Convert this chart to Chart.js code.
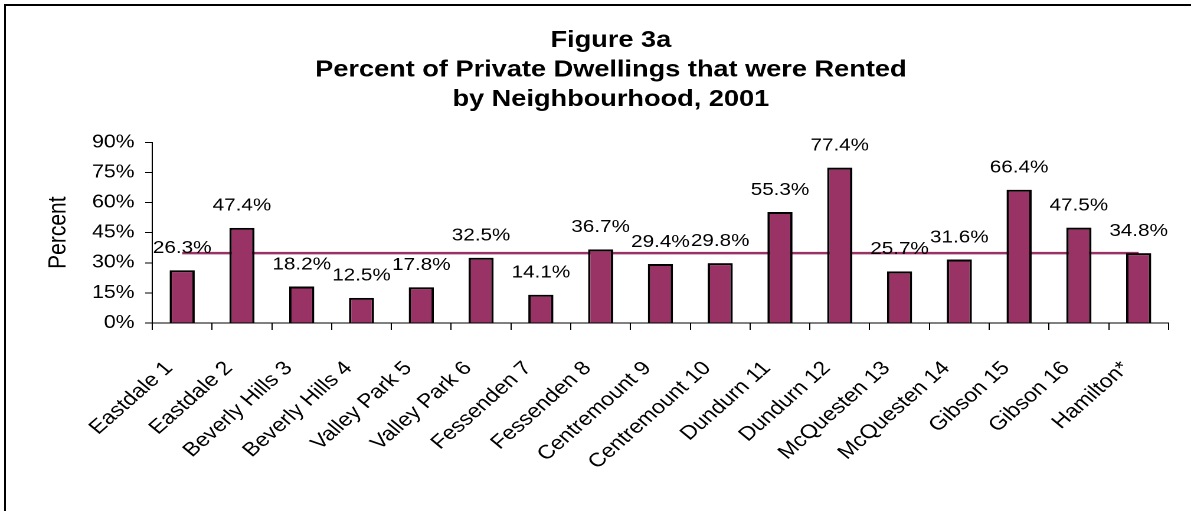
<!DOCTYPE html>
<html>
<head>
<meta charset="utf-8">
<script src="https://cdn.jsdelivr.net/npm/chart.js@4/dist/chart.umd.min.js"></script>
<style>
    html, body { margin: 0; padding: 0; background: #fff; overflow: hidden; }
    #frame { position: absolute; left: 4px; top: 4px; width: 1300px; height: 600px; border-top: 2px solid #000; border-left: 2px solid #000; }
    /* the original figure is stretched sideways, so draw narrower and widen it */
    #holder { position: absolute; left: 0; top: 0; width: 1009px; height: 511px; transform: scaleX(1.1804); transform-origin: 0 0; }
</style>
</head>
<body>
<div id="frame"></div>
<div id="holder"><canvas id="myChart"></canvas></div>
<script>
// neighbourhoods, in chart order
const neighbourhoods = ['Eastdale 1', 'Eastdale 2', 'Beverly Hills 3', 'Beverly Hills 4', 'Valley Park 5', 'Valley Park 6',
    'Fessenden 7', 'Fessenden 8', 'Centremount 9', 'Centremount 10', 'Dundurn 11', 'Dundurn 12',
    'McQuesten 13', 'McQuesten 14', 'Gibson 15', 'Gibson 16', 'Hamilton*'];
// percent of private dwellings rented
const rented_pct = [26.3, 47.4, 18.2, 12.5, 17.8, 32.5, 14.1, 36.7, 29.4, 29.8, 55.3, 77.4, 25.7, 31.6, 66.4, 47.5, 34.8];
// Hamilton average drawn as a flat line
const hamilton_line = [34.8, 34.8, 34.8, 34.8, 34.8, 34.8, 34.8, 34.8, 34.8, 34.8, 34.8, 34.8, 34.8, 34.8, 34.8, 34.8, 34.8];
const y_ticks = [0, 15, 30, 45, 60, 75, 90];
const title_lines = ['Figure 3a', 'Percent of Private Dwellings that were Rented', 'by Neighbourhood, 2001'];

const FONT = "'Liberation Sans', Arial, sans-serif";
const MAROON = '#993366';

// draws the value above every bar
const bar_labels = {
    id: 'bar_labels',
    afterDatasetsDraw(chart) {
        let ctx = chart.ctx;
        let meta = chart.getDatasetMeta(0);
        ctx.save();
        ctx.font = `17.5px ${FONT}`;
        ctx.fillStyle = '#000';
        ctx.textAlign = 'center';
        ctx.textBaseline = 'middle';
        meta.data.forEach((bar, i) => {
            ctx.fillText(rented_pct[i].toFixed(1) + '%', bar.x, bar.y - 22);
        });
        ctx.restore();
    }
};

var ctx = document.getElementById('myChart');
chart = new Chart(ctx, {
    type: 'bar',
    data: {
        labels: neighbourhoods,
        datasets: [
            {
                label: 'Percent rented',
                data: rented_pct,
                backgroundColor: MAROON,
                borderColor: '#000',
                borderWidth: 2,
                barPercentage: 0.42,
                categoryPercentage: 1.0,
                order: 1
            },
            {
                type: 'line',
                label: 'Hamilton',
                data: hamilton_line,
                borderColor: MAROON,
                borderWidth: 2.5,
                pointRadius: 0,
                fill: false,
                order: 2
            }
        ]
    },
    options: {
        responsive: true,
        maintainAspectRatio: false,
        animation: false,
        devicePixelRatio: 2,
        layout: { padding: { left: 44, right: 18, top: 26, bottom: 0 } },
        scales: {
            x: {
                afterFit: (s) => { s.height = 188; },
                grid: { display: true, drawOnChartArea: false, tickLength: 7, color: '#000', lineWidth: 1 },
                border: { color: '#000', width: 1 },
                ticks: {
                    autoSkip: false,
                    maxRotation: 46,
                    minRotation: 46,
                    color: '#000',
                    font: { family: FONT, size: 19.5 },
                    padding: 27,
                    labelOffset: -11
                }
            },
            y: {
                min: 0,
                max: 90,
                afterFit: (s) => { s.width = 85; },
                afterBuildTicks: (s) => { s.ticks = y_ticks.map(v => ({ value: v })); },
                grid: { display: true, drawOnChartArea: false, tickLength: 6, color: '#000', lineWidth: 1 },
                border: { color: '#000', width: 1 },
                ticks: {
                    color: '#000',
                    font: { family: FONT, size: 18 },
                    padding: 9,
                    callback: (v) => v + '%'
                },
                title: {
                    display: true,
                    text: 'Percent',
                    color: '#000',
                    font: { family: FONT, size: 21 },
                    padding: { top: -7, bottom: 4 }
                }
            }
        },
        plugins: {
            legend: { display: false },
            tooltip: { enabled: false },
            title: {
                display: true,
                text: title_lines,
                color: '#000',
                font: { family: FONT, size: 23, weight: 'bold', lineHeight: 1.28 },
                padding: { top: 0, bottom: 28 }
            }
        }
    },
    plugins: [bar_labels]
});
</script>
</body>
</html>
